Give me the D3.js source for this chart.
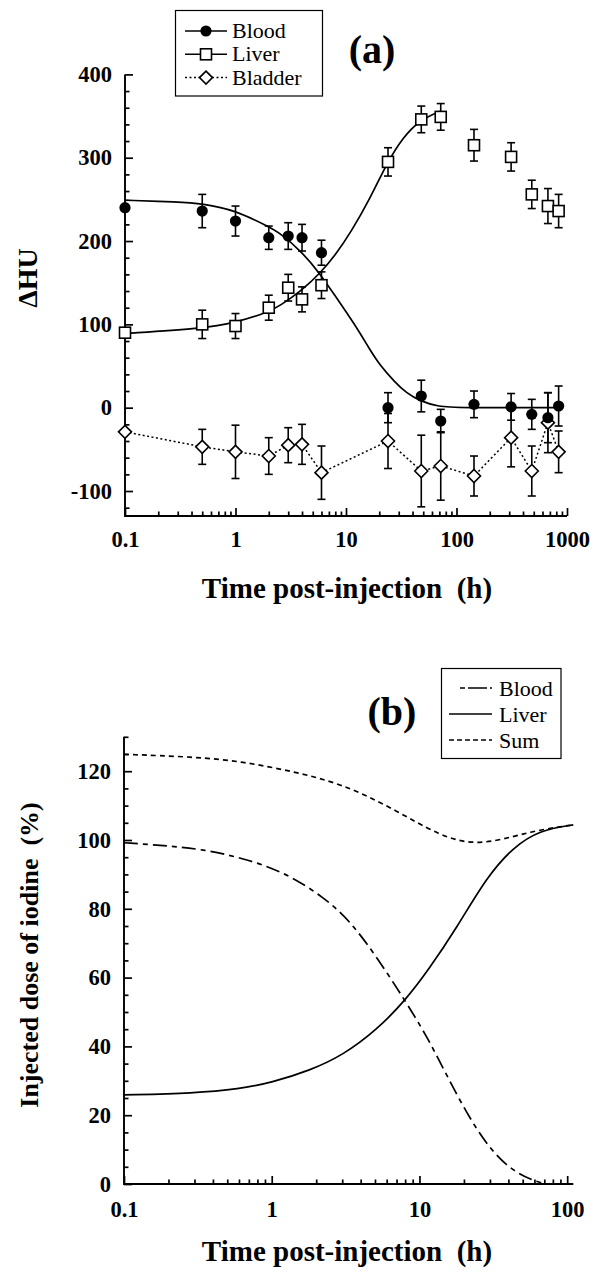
<!DOCTYPE html>
<html><head><meta charset="utf-8">
<script src="https://cdn.jsdelivr.net/npm/d3@7"></script>
<style>body{margin:0;background:#fff}svg{display:block}svg text{font-family:"Liberation Serif","Times New Roman",Tinos,"DejaVu Serif",serif;white-space:pre}</style>
</head><body>
<script>
// ---------- Panel (a) data ----------
const timesA = [0.1, 0.5, 1, 2, 3, 4, 6, 24, 48, 72, 144, 312, 480, 672, 840];
const bloodHU = [240, 236, 224, 204, 206, 204, 186, 0, 14, -16, 4, 1, -8, -12, 2];
const bloodErr = [0, 20, 18, 14, 16, 16, 15, 18, 19, 14, 16, 16, 18, 30, 24];
const liverHU = [90, 100, 98, 120, 144, 130, 147, 295, 346, 349, 315, 301, 256, 242, 236];
const liverErr = [0, 17, 15, 15, 16, 15, 16, 17, 16, 16, 19, 17, 17, 21, 20];
const bladderHU = [-29, -47, -53, -58, -45, -44, -78, -40, -76, -70, -82, -36, -76, -18, -53];
const bladderErr = [0, 21, 32, 22, 21, 24, 32, 33, 43, 41, 24, 35, 30, 36, 25];
// fitted curves
const bloodFitT = [0.1, 0.3, 0.5, 1, 2, 2.5, 4, 5.8, 8, 12, 16.4, 20, 28, 35, 46.5, 70, 100, 840];
const bloodFitV = [249, 247, 245, 237, 217, 210, 187, 161, 134, 100, 70, 52, 30, 18, 8, 1, 0, 0];
const liverFitT = [0.1, 0.5, 1, 2, 2.5, 4, 5.8, 8, 11, 16.4, 23.3, 33, 46.5, 72];
const liverFitV = [89, 95, 102, 115, 122, 141, 161, 183, 210, 250, 293, 325, 345, 356];
const yTicksA = [-100, 0, 100, 200, 300, 400];
const xTicksA = [0.1, 1, 10, 100, 1000];

// ---------- Panel (b) data ----------
const bloodBT = [0.1, 0.185, 0.344, 0.64, 1.2, 2.24, 3.39, 5.14, 8, 11.2, 14.5, 24.4, 39, 60, 72];
const bloodBV = [99.2, 98.4, 97.3, 94.7, 90.8, 83.5, 76.5, 66, 53.3, 43, 33.5, 15, 4.6, 0.8, 0];
const liverBT = [0.1, 0.3, 0.6, 1, 1.82, 3.05, 5.14, 8, 11.5, 17.9, 28.6, 43.3, 65.6, 110];
const liverBV = [25.9, 26.4, 27.6, 29.5, 33, 37.5, 44.8, 53.3, 62.2, 74.5, 89.3, 98, 102.9, 104.4];
const sumBT = [0.1, 0.294, 0.64, 1.4, 2.9, 6.32, 13.8, 24.4, 43.3, 65.6, 110];
const sumBV = [124.9, 124.2, 122.8, 119.9, 116.5, 109.7, 101, 98.5, 101, 103, 104.4];
const yTicksB = [0, 20, 40, 60, 80, 100, 120];
const xTicksB = [0.1, 1, 10, 100];

const W = 594, H = 1273;
const svg = d3.select("body").append("svg").attr("width", W).attr("height", H);

function minorLog(domain) {
  const out = [];
  for (let e = -1; e <= 3; e++) for (let m = 2; m <= 9; m++) {
    const v = m * Math.pow(10, e);
    if (v > domain[0] && v <= domain[1]) out.push(v);
  }
  return out;
}
function drawAxes(g, x, y, yMajor, yMinor, xMajor, xFmt, xPad) {
  const ax = g.append("g");
  ax.append("g").attr("transform", `translate(${x.range()[0]},0)`)
    .call(d3.axisLeft(y).tickValues(yMinor).tickSize(-4.5).tickSizeOuter(0).tickFormat(""))
    .call(s => s.select(".domain").remove());
  ax.append("g").attr("transform", `translate(0,${y.range()[0]})`)
    .call(d3.axisBottom(x).tickValues(minorLog(x.domain())).tickSize(-4.5).tickSizeOuter(0).tickFormat(""))
    .call(s => s.select(".domain").remove());
  ax.append("g").attr("transform", `translate(${x.range()[0]},0)`)
    .call(d3.axisLeft(y).tickValues(yMajor).tickSize(-8).tickSizeOuter(0).tickPadding(13).tickFormat(d => String(d)));
  ax.append("g").attr("transform", `translate(0,${y.range()[0]})`)
    .call(d3.axisBottom(x).tickValues(xMajor).tickSize(-8).tickSizeOuter(0).tickPadding(xPad).tickFormat(xFmt));
  ax.selectAll(".domain").remove();
  ax.selectAll("g").attr("font-family", null).attr("font-size", null);
  ax.selectAll("line").attr("stroke", "#000").attr("stroke-width", 1.7);
  ax.selectAll("text").attr("font-weight", "bold").attr("font-size", 22.5).attr("fill", "#000");
  const x0 = x.range()[0], x1 = x.range()[1], [yb, yt] = y.range();
  ax.append("path").attr("d", `M${x0},${yt}V${yb}H${x1}`).attr("fill", "none")
    .attr("stroke", "#000").attr("stroke-width", 1.9);
}
const fmtX = d => d < 1 ? "0.1" : String(d);

// ================= Panel (a) =================
const xa = d3.scaleLog().domain([0.1, 1000]).range([125, 567]);
const ya = d3.scaleLinear().domain([-130, 400]).range([516, 74.4]);
const ga = svg.append("g");
const minorA = d3.range(-120, 401, 20).filter(v => v % 100 !== 0);
drawAxes(ga, xa, ya, yTicksA, minorA, xTicksA, fmtX, 15);

const lineA = d3.line().x(d => xa(d[0])).y(d => ya(d[1]));
const smoothA = d3.line().x(d => xa(d[0])).y(d => ya(d[1])).curve(d3.curveBasis);
ga.append("path").attr("d", smoothA(d3.zip(bloodFitT, bloodFitV)))
  .attr("fill", "none").attr("stroke", "#000").attr("stroke-width", 1.7);
ga.append("path").attr("d", smoothA(d3.zip(liverFitT, liverFitV)))
  .attr("fill", "none").attr("stroke", "#000").attr("stroke-width", 1.7);
ga.append("path").attr("d", lineA(d3.zip(timesA, bladderHU)))
  .attr("fill", "none").attr("stroke", "#000").attr("stroke-width", 1.5).attr("stroke-dasharray", "2,2.5");

function errBars(vals, errs) {
  const g = ga.append("g").attr("stroke", "#000").attr("stroke-width", 1.6);
  timesA.forEach((t, i) => {
    if (!errs[i]) return;
    const x = xa(t), y1 = ya(vals[i] - errs[i]), y2 = ya(vals[i] + errs[i]);
    g.append("line").attr("x1", x).attr("x2", x).attr("y1", y1).attr("y2", y2);
    g.append("line").attr("x1", x - 4).attr("x2", x + 4).attr("y1", y1).attr("y2", y1);
    g.append("line").attr("x1", x - 4).attr("x2", x + 4).attr("y1", y2).attr("y2", y2);
  });
}
errBars(bladderHU, bladderErr);
errBars(liverHU, liverErr);
errBars(bloodHU, bloodErr);

function diamond(g, x, y) {
  g.append("path").attr("d", `M${x},${y - 6.5}L${x + 6.5},${y}L${x},${y + 6.5}L${x - 6.5},${y}Z`)
    .attr("fill", "#fff").attr("stroke", "#000").attr("stroke-width", 1.6);
}
function square(g, x, y) {
  g.append("rect").attr("x", x - 5.5).attr("y", y - 5.5).attr("width", 11).attr("height", 11)
    .attr("fill", "#fff").attr("stroke", "#000").attr("stroke-width", 1.6);
}
function dot(g, x, y) {
  g.append("circle").attr("cx", x).attr("cy", y).attr("r", 5.6).attr("fill", "#000");
}
const mk = ga.append("g");
timesA.forEach((t, i) => diamond(mk, xa(t), ya(bladderHU[i])));
timesA.forEach((t, i) => square(mk, xa(t), ya(liverHU[i])));
timesA.forEach((t, i) => dot(mk, xa(t), ya(bloodHU[i])));

// legend a
const la = ga.append("g");
la.append("rect").attr("x", 175.5).attr("y", 10.5).attr("width", 147).attr("height", 85.5)
  .attr("fill", "#fff").attr("stroke", "#000").attr("stroke-width", 1.2);
const legA = [["Blood", "dot", null], ["Liver", "square", null], ["Bladder", "diamond", "2,2.5"]];
legA.forEach((d, i) => {
  const cy = 31 + i * 23.3;
  la.append("line").attr("x1", 185).attr("x2", 227).attr("y1", cy).attr("y2", cy)
    .attr("stroke", "#000").attr("stroke-width", 1.5).attr("stroke-dasharray", d[2]);
  if (d[1] === "dot") dot(la, 206, cy);
  else if (d[1] === "square") square(la, 206, cy);
  else diamond(la, 206, cy);
  la.append("text").attr("x", 232).attr("y", cy + 7).attr("font-size", 22).text(d[0]);
});
ga.append("text").attr("x", 372).attr("y", 63).attr("text-anchor", "middle")
  .attr("font-size", 40).attr("font-weight", "bold").text("(a)");
ga.append("text").attr("transform", "translate(37,278) rotate(-90)").attr("text-anchor", "middle")
  .attr("font-size", 28).attr("font-weight", "bold").text("ΔHU");
ga.append("text").attr("x", 347).attr("y", 598).attr("text-anchor", "middle")
  .attr("font-size", 29).attr("font-weight", "bold").text("Time post-injection  (h)");

// ================= Panel (b) =================
const xb = d3.scaleLog().domain([0.1, 110]).range([124, 573.3]);
const yb = d3.scaleLinear().domain([0, 130]).range([1184, 736.8]);
const gb = svg.append("g");
const minorB = d3.range(5, 131, 5).filter(v => v % 20 !== 0);
drawAxes(gb, xb, yb, yTicksB, minorB, xTicksB, fmtX, 17);
const smoothB = d3.line().x(d => xb(d[0])).y(d => yb(d[1])).curve(d3.curveBasis);
gb.append("path").attr("d", smoothB(d3.zip(sumBT, sumBV)))
  .attr("fill", "none").attr("stroke", "#000").attr("stroke-width", 1.7).attr("stroke-dasharray", "5,4");
gb.append("path").attr("d", smoothB(d3.zip(bloodBT, bloodBV)))
  .attr("fill", "none").attr("stroke", "#000").attr("stroke-width", 1.7).attr("stroke-dasharray", "14,5,5,5");
gb.append("path").attr("d", smoothB(d3.zip(liverBT, liverBV)))
  .attr("fill", "none").attr("stroke", "#000").attr("stroke-width", 1.7);

// legend b
const lb = gb.append("g");
lb.append("rect").attr("x", 441.5).attr("y", 668.5).attr("width", 119.5).attr("height", 90)
  .attr("fill", "#fff").attr("stroke", "#000").attr("stroke-width", 1.2);
const legB = [["Blood", "5,3,14,0"], ["Liver", null], ["Sum", "5,3"]];
legB.forEach((d, i) => {
  const cy = 688 + i * 26;
  lb.append("line").attr("x1", i === 0 ? 460 : 449).attr("x2", 492).attr("y1", cy).attr("y2", cy)
    .attr("stroke", "#000").attr("stroke-width", 1.5).attr("stroke-dasharray", d[1]);
  lb.append("text").attr("x", 499).attr("y", cy + 8).attr("font-size", 22).text(d[0]);
});
gb.append("text").attr("x", 392).attr("y", 725).attr("text-anchor", "middle")
  .attr("font-size", 40).attr("font-weight", "bold").text("(b)");
gb.append("text").attr("transform", "translate(38,955) rotate(-90)").attr("text-anchor", "middle")
  .attr("font-size", 26).attr("font-weight", "bold").text("Injected dose of iodine  (%)");
gb.append("text").attr("x", 347).attr("y", 1261).attr("text-anchor", "middle")
  .attr("font-size", 29).attr("font-weight", "bold").text("Time post-injection  (h)");
</script>
</body></html>
